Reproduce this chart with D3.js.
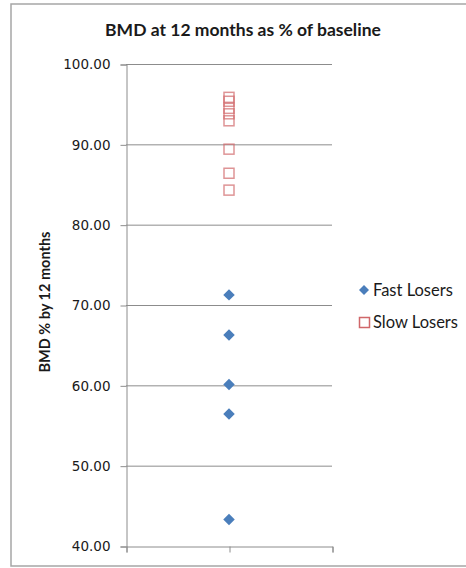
<!DOCTYPE html>
<html>
<head>
<meta charset="utf-8">
<script src="https://cdn.jsdelivr.net/npm/d3@7"></script>
<style>
  html, body { margin: 0; padding: 0; background: #fff; }
  svg { display: block; }
  text { font-family: "Lato", "Liberation Sans", sans-serif; fill: #1a1a1a; }
</style>
</head>
<body>
<svg id="chart" width="466" height="568"></svg>
<script>
// BMD at 12 months, expressed as % of baseline, per patient group
const seriesNames = ["Fast Losers", "Slow Losers"];
const fastLosers = [71.26, 66.26, 60.1, 56.44, 43.3];
const slowLosers = [95.85, 95.36, 94.48, 93.8, 92.93, 89.4, 86.4, 84.3];
const yTicks = [40, 50, 60, 70, 80, 90, 100];
const xTicks = [0, 1, 2];
const groupX = 1;

const svg = d3.select("#chart");

// chart frame
svg.append("rect")
  .attr("x", 11).attr("y", 4).attr("width", 470).attr("height", 562)
  .attr("fill", "#fff").attr("stroke", "#a6a6a6").attr("stroke-width", 1.5);

const plot = { left: 126, right: 332, top: 64, bottom: 546 };

const x = d3.scaleLinear().domain([0, 2]).range([plot.left, plot.right]);
const y = d3.scaleLinear().domain([40, 100]).range([plot.bottom, plot.top]);

// horizontal gridlines
svg.append("g")
  .selectAll("line")
  .data(yTicks.filter(t => t !== 40))
  .join("line")
  .attr("x1", plot.left).attr("x2", plot.right)
  .attr("y1", d => y(d) + 0.5).attr("y2", d => y(d) + 0.5)
  .attr("stroke", "#8c8c8c").attr("stroke-width", 1);

// y axis
const yAxis = svg.append("g")
  .attr("transform", `translate(${plot.left + 0.5},0.5)`)
  .call(d3.axisLeft(y).tickValues(yTicks).tickFormat(d3.format(".2f")).tickSize(6).tickPadding(10));
yAxis.select(".domain").attr("stroke", "#8c8c8c");
yAxis.selectAll(".tick line").attr("stroke", "#8c8c8c");
yAxis.selectAll(".tick text")
  .style("font-family", "'DejaVu Sans', sans-serif")
  .style("font-size", "13.5px").attr("fill", "#2a2a2a");

// x axis (no labels)
const xAxis = svg.append("g")
  .attr("transform", `translate(0.5,${plot.bottom + 0.5})`)
  .call(d3.axisBottom(x).tickValues(xTicks).tickFormat("").tickSizeOuter(0).tickSize(6));
xAxis.select(".domain").attr("stroke", "#8c8c8c");
xAxis.selectAll(".tick line").attr("stroke", "#8c8c8c");

// title
svg.append("text")
  .attr("x", 243).attr("y", 36)
  .attr("text-anchor", "middle")
  .style("font-size", "17.5px").style("font-weight", "bold")
  .text("BMD at 12 months as % of baseline");

// y axis title
svg.append("text")
  .attr("transform", "translate(50,302) rotate(-90)")
  .attr("text-anchor", "middle")
  .style("font-size", "14.5px").style("font-weight", "bold")
  .text("BMD % by 12 months");

const diamond = d3.symbol().type(d3.symbolDiamond2).size(84);
const blue = "#4a7ebb";
const red = "#d0676a";

// slow losers: hollow squares
svg.append("g")
  .selectAll("rect")
  .data(slowLosers)
  .join("rect")
  .attr("x", x(groupX) - 5).attr("y", d => y(d) - 5)
  .attr("width", 10).attr("height", 10)
  .attr("fill", "none").attr("stroke", red).attr("stroke-width", 1.5).attr("stroke-opacity", 0.7);

// fast losers: filled diamonds
svg.append("g")
  .selectAll("path")
  .data(fastLosers)
  .join("path")
  .attr("transform", d => `translate(${x(groupX)},${y(d)})`)
  .attr("d", diamond)
  .attr("fill", blue);

// legend
const legend = svg.append("g");
legend.append("path")
  .attr("transform", "translate(364,290)")
  .attr("d", d3.symbol().type(d3.symbolDiamond2).size(64))
  .attr("fill", blue);
legend.append("rect")
  .attr("x", 359.5).attr("y", 317.5).attr("width", 10).attr("height", 10)
  .attr("fill", "none").attr("stroke", red).attr("stroke-width", 1.5);
legend.selectAll("text")
  .data(seriesNames)
  .join("text")
  .attr("x", 373).attr("y", (d, i) => 296 + i * 32)
  .style("font-size", "16.5px")
  .text(d => d);
</script>
</body>
</html>
